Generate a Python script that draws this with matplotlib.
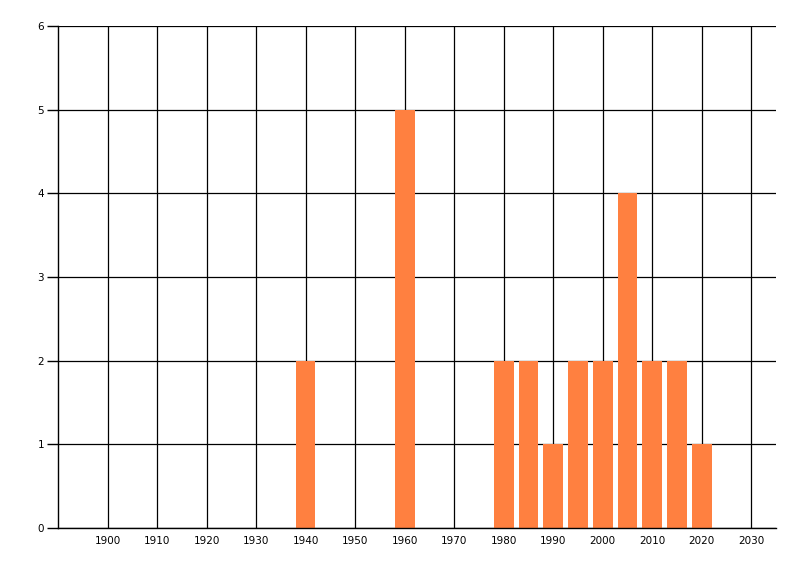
import matplotlib
matplotlib.use('Agg')
import matplotlib.pyplot as plt

# values
years = [1940, 1960, 1980, 1985, 1990, 1995, 2000, 2005, 2010, 2015, 2020]
counts = [2, 5, 2, 2, 1, 2, 2, 4, 2, 2, 1]
x_ticks = list(range(1900, 2031, 10))
y_ticks = [0, 1, 2, 3, 4, 5, 6]

plt.rcParams['font.family'] = ['DejaVu Sans']

fig = plt.figure(figsize=(8, 5.76), dpi=100)
ax = fig.add_axes([0.0725, 0.0833, 0.8975, 0.8716])

ax.set_axisbelow(True)
ax.bar(years, counts, width=4, color='#FF8040', zorder=2)

ax.set_xlim(1890, 2035)
ax.set_ylim(0, 6)
ax.set_xticks(x_ticks)
ax.set_yticks(y_ticks)
ax.grid(True, color='black', linewidth=0.9)

for side in ['top', 'right']:
    ax.spines[side].set_visible(False)
for side in ['left', 'bottom']:
    ax.spines[side].set_linewidth(1.0)
    ax.spines[side].set_color('black')

ax.tick_params(axis='x', length=0, pad=6, labelsize=7.5)
ax.tick_params(axis='y', length=8, width=1, pad=2, labelsize=7.5)

fig.savefig('out.png', dpi=100)
